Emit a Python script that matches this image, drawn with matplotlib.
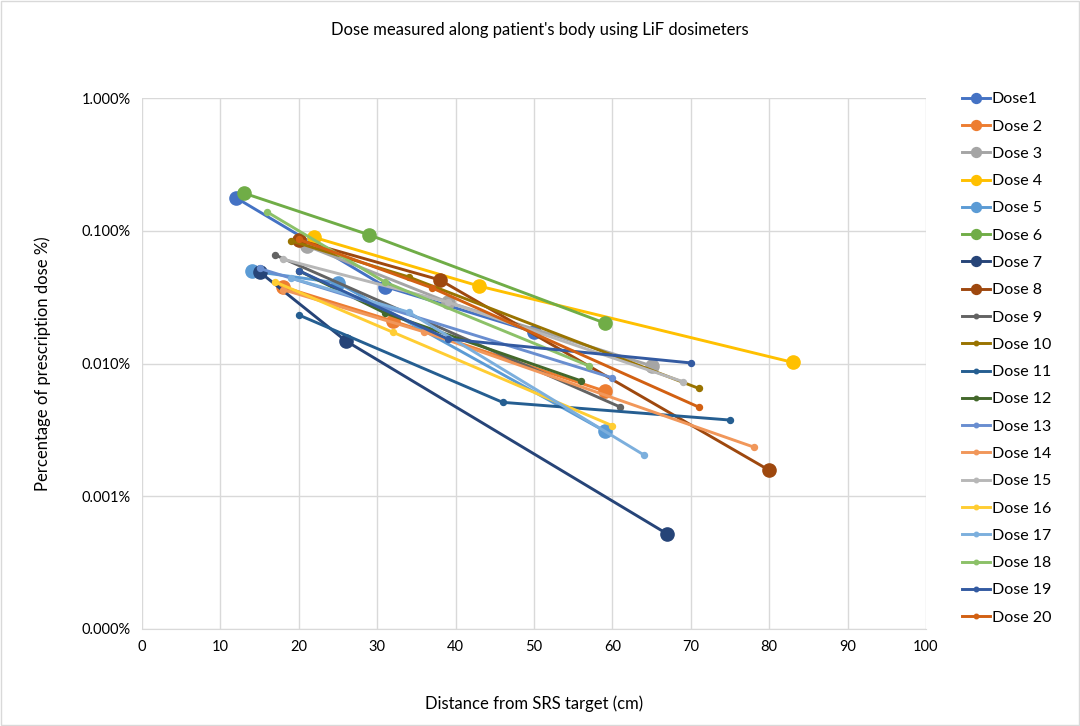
import matplotlib.pyplot as plt
from matplotlib.ticker import FuncFormatter, FixedLocator

plt.rcParams['font.family'] = ['Lato', 'DejaVu Sans']

labels = ['Dose1'] + [f'Dose {i}' for i in range(2, 21)]

colors = ['#4472C4', '#ED7D31', '#A5A5A5', '#FFC000', '#5B9BD5', '#70AD47',
          '#264478', '#9E480E', '#636363', '#997300', '#255E91', '#43682B',
          '#698ED0', '#F1975A', '#B7B7B7', '#FFCD33', '#7CAFDD', '#8CC168',
          '#335AA1', '#D26012']

# distance (cm) and dose (% of prescription) per series
dist = [
    [12, 31, 50],
    [18, 32, 59],
    [21, 39, 65],
    [22, 43, 83],
    [14, 25, 59],
    [13, 29, 59],
    [15, 26, 67],
    [20, 38, 80],
    [17, 61],
    [19, 34, 71],
    [20, 46, 75],
    [20, 31, 56],
    [15, 60],
    [18, 36, 78],
    [18, 39, 69],
    [17, 32, 60],
    [19, 34, 64],
    [16, 31, 57],
    [20, 39, 70],
    [20, 37, 71],
]
dose = [
    [0.177, 0.038, 0.0173],
    [0.0377, 0.0209, 0.0062],
    [0.077, 0.029, 0.0096],
    [0.089, 0.0383, 0.0102],
    [0.0497, 0.0404, 0.0031],
    [0.192, 0.093, 0.0202],
    [0.0489, 0.0148, 0.00052],
    [0.085, 0.0426, 0.00157],
    [0.0656, 0.0047],
    [0.084, 0.0449, 0.0065],
    [0.0232, 0.0051, 0.00375],
    [0.050, 0.024, 0.0074],
    [0.052, 0.0078],
    [0.036, 0.0173, 0.00235],
    [0.061, 0.029, 0.0073],
    [0.0411, 0.0172, 0.0034],
    [0.044, 0.0244, 0.00205],
    [0.138, 0.041, 0.0096],
    [0.050, 0.0153, 0.0101],
    [0.086, 0.0371, 0.0047],
]

fig = plt.figure(figsize=(10.8, 7.26), dpi=100)
ax = fig.add_axes([142 / 1080, 1 - 629 / 726, 784 / 1080, 531 / 726])

for i in range(20):
    ms = 9.5 if i < 8 else 4.3
    ax.plot(dist[i], dose[i], color=colors[i], lw=2.1, marker='o', ms=ms,
            label=labels[i], zorder=3)

ax.set_yscale('log')
ax.set_ylim(1e-4, 1)
ax.set_xlim(0, 100)
ax.set_xticks(range(0, 101, 10))
ax.yaxis.set_major_locator(FixedLocator([1e-4, 1e-3, 1e-2, 1e-1, 1]))
ax.yaxis.set_minor_locator(FixedLocator([]))
ax.yaxis.set_major_formatter(FuncFormatter(lambda v, p: f'{v:.3f}%'))
ax.grid(True, color='#D9D9D9', lw=1)
ax.set_axisbelow(True)
for s in ax.spines.values():
    s.set_visible(False)
ax.spines['bottom'].set_visible(True)
ax.spines['bottom'].set_color('#D9D9D9')
ax.tick_params(length=0, labelsize=10.5, colors='#000000', pad=8)

ax.set_xlabel('Distance from SRS target (cm)', fontsize=12, labelpad=30)
ax.set_ylabel('Percentage of prescription dose %)', fontsize=12, labelpad=22)
fig.text(0.5, 1 - 30 / 726, "Dose measured along patient's body using LiF dosimeters",
         ha='center', va='center', fontsize=12)

leg = ax.legend(loc='upper left', bbox_to_anchor=(1.027, 1.038), frameon=False,
                fontsize=11.5, labelspacing=0.82, handlelength=1.8,
                handletextpad=0.1, markerscale=0.75)

fig.patches.append(plt.Rectangle((0.001, 0.001), 0.998, 0.998, transform=fig.transFigure,
                                 fill=False, edgecolor='#D9D9D9', lw=1))
fig.savefig('out.png', dpi=100)
